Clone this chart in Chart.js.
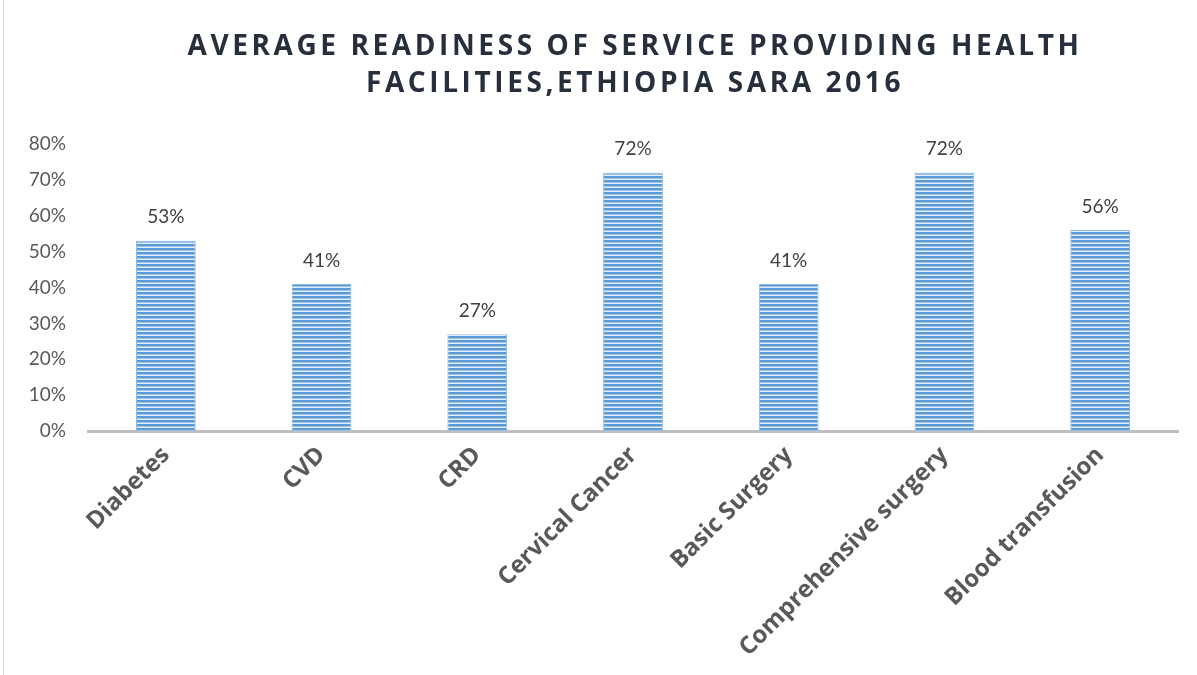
<!DOCTYPE html>
<html>
<head>
<meta charset="utf-8">
<script src="https://cdn.jsdelivr.net/npm/chart.js@4/dist/chart.umd.min.js"></script>
<style>
  html, body { margin: 0; padding: 0; background: #fff; }
  #wrap { width: 1197px; height: 675px; position: relative; }
</style>
</head>
<body>
<div id="wrap"><canvas id="chart"></canvas></div>
<script>
// Service readiness by tracer area, percent
var categories = ['Diabetes', 'CVD', 'CRD', 'Cervical Cancer', 'Basic Surgery',
                  'Comprehensive surgery', 'Blood transfusion'];
var readiness = [53, 41, 27, 72, 41, 72, 56];
var yTicks = [0, 10, 20, 30, 40, 50, 60, 70, 80];
var titleLines = ['AVERAGE READINESS OF SERVICE PROVIDING HEALTH',
                  'FACILITIES,ETHIOPIA SARA 2016'];

/**
 * Striped fill for the bars: thin horizontal blue bands.
 */
function makeStripes() {
  var c = document.createElement('canvas');
  c.width = 4;
  c.height = 4;
  var g = c.getContext('2d');
  g.fillStyle = '#5b9bd5';
  g.fillRect(0, 0, 4, 2);
  g.fillStyle = '#9ec3e8';
  g.fillRect(0, 2, 4, 1);
  g.fillStyle = '#e2eefa';
  g.fillRect(0, 3, 4, 1);
  return g.createPattern(c, 'repeat');
}

// Title with letter spacing plus the frame line on the left.
var titlePlugin = {
  id: 'spacedTitle',
  afterDraw: function(chart) {
    var ctx = chart.ctx;
    ctx.save();
    ctx.strokeStyle = '#d9d9d9';
    ctx.lineWidth = 1;
    ctx.beginPath();
    ctx.moveTo(3.5, 0);
    ctx.lineTo(3.5, chart.height);
    ctx.stroke();

    ctx.fillStyle = '#262f3b';
    ctx.font = 'bold 28px "Open Sans"';
    ctx.textAlign = 'center';
    ctx.textBaseline = 'middle';
    if ('letterSpacing' in ctx) ctx.letterSpacing = '3.6px';
    ctx.fillText(titleLines[0], 635, 47);
    ctx.fillText(titleLines[1], 635, 84);
    ctx.restore();
  }
};

// Value labels above each bar.
var valueLabels = {
  id: 'valueLabels',
  afterDatasetsDraw: function(chart) {
    var ctx = chart.ctx;
    var meta = chart.getDatasetMeta(0);
    ctx.save();
    ctx.fillStyle = '#404040';
    ctx.font = '19px Lato';
    ctx.textAlign = 'center';
    ctx.textBaseline = 'bottom';
    meta.data.forEach(function(bar, i) {
      ctx.fillText(readiness[i] + '%', bar.x, bar.y - 14);
    });
    ctx.restore();
  }
};

var ctx = document.getElementById('chart');
new Chart(ctx, {
  type: 'bar',
  data: {
    labels: categories,
    datasets: [{
      data: readiness,
      backgroundColor: makeStripes(),
      borderColor: '#8db8e4',
      borderWidth: {left: 1, right: 1, top: 1, bottom: 0},
      categoryPercentage: 0.8,
      barPercentage: 0.48
    }]
  },
  options: {
    responsive: true,
    maintainAspectRatio: false,
    animation: false,
    layout: {padding: {top: 144, right: 19, left: 0, bottom: 0}},
    plugins: {
      legend: {display: false},
      title: {display: false},
      tooltip: {enabled: false}
    },
    scales: {
      x: {
        grid: {display: false},
        border: {display: true, color: '#bfbfbf', width: 3},
        ticks: {
          color: '#595959',
          font: {family: 'Open Sans', size: 24, weight: 'bold'},
          minRotation: 45,
          maxRotation: 45,
          padding: 2
        },
        afterFit: function(scale) { scale.height = 244; }
      },
      y: {
        min: 0,
        max: 80,
        afterBuildTicks: function(scale) {
          scale.ticks = yTicks.map(function(v) { return {value: v}; });
        },
        grid: {display: false, drawTicks: false},
        border: {display: false},
        ticks: {
          color: '#595959',
          font: {family: 'Lato', size: 19},
          padding: 22,
          callback: function(v) { return v + '%'; }
        },
        afterFit: function(scale) { scale.width = 88; }
      }
    }
  },
  plugins: [titlePlugin, valueLabels]
});
</script>
</body>
</html>
